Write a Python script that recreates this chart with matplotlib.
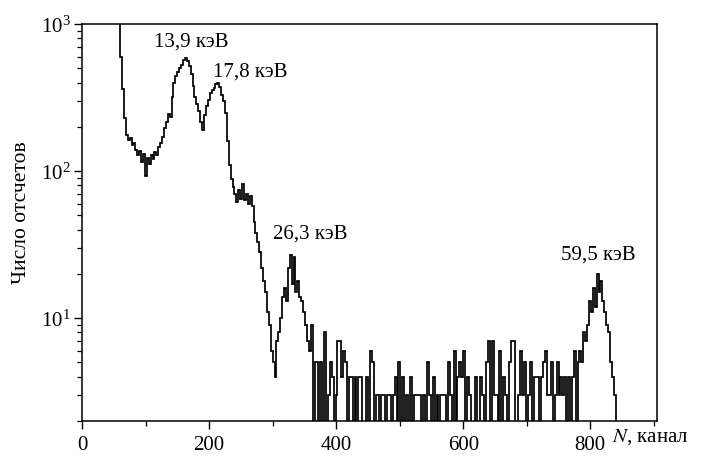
import numpy as np
import matplotlib
matplotlib.use('Agg')
import matplotlib.pyplot as plt
from matplotlib.ticker import LogLocator, NullFormatter, MultipleLocator

# spectrum, 3-channel bins starting at channel 54
ch_start = 54
ch_step = 3

# ch 54..234 : low-energy edge, 13.9 and 17.8 keV peaks
counts_low = [1500, 1150, 600, 360, 230, 175, 162, 168, 150, 156,
              140, 128, 138, 115, 130, 93, 122, 112, 128, 120,
              135, 128, 145, 155, 170, 195, 215, 245, 235, 320,
              400, 440, 470, 505, 525, 565, 590, 560, 520, 455,
              380, 320, 285, 255, 215, 190, 240, 275, 305, 340,
              355, 370, 390, 395, 375, 330, 300, 250, 160, 110]

# ch 234..354 : shoulder and 26.3 keV peak
counts_mid = [88, 78, 70, 62, 74, 65, 82, 64, 70, 60,
              68, 58, 45, 38, 33, 28, 22, 18, 15, 11,
              9, 6, 5, 4, 7, 8, 10, 14, 16, 13,
              22, 27, 17, 26, 15, 18, 14, 13, 11, 9]

# ch 354..774 : flat tail (1 = below the axis)
counts_tail = [7, 6, 9, 1, 5, 5, 1, 5, 1, 8,
               1, 3, 5, 4, 1, 3, 7, 7, 4, 6,
               5, 1, 4, 4, 1, 4, 1, 4, 4, 1,
               1, 4, 1, 6, 5, 1, 3, 3, 1, 3,
               3, 1, 3, 3, 1, 3, 4, 1, 5, 1,
               4, 1, 3, 1, 4, 1, 3, 3, 3, 3,
               1, 3, 1, 5, 3, 1, 4, 1, 3, 1,
               3, 3, 3, 1, 5, 3, 1, 6, 1, 4,
               5, 4, 6, 1, 4, 3, 1, 1, 4, 1,
               1, 4, 3, 1, 5, 7, 1, 7, 3, 3,
               1, 6, 1, 4, 3, 1, 5, 7, 7, 1,
               1, 3, 6, 3, 5, 1, 3, 5, 1, 4,
               4, 4, 1, 4, 5, 6, 3, 3, 5, 1,
               3, 5, 3, 4, 3, 4, 1, 4, 1, 4]

# ch 774..846 : 59.5 keV peak
counts_am = [6, 1, 5, 6, 5, 8, 7, 9, 13, 11,
             16, 12, 20, 15, 18, 13, 11, 9, 8, 5,
             4, 3, 1, 1]

peak_labels = ['13,9 кэВ', '17,8 кэВ', '26,3 кэВ', '59,5 кэВ']
peak_label_pos = [(172, 760), (265, 480), (360, 38), (813, 27.5)]

plt.rcParams['font.family'] = ['Liberation Serif', 'DejaVu Serif']
plt.rcParams['mathtext.fontset'] = 'stix'

counts = np.array(counts_low + counts_mid + counts_tail + counts_am, dtype=float)
edges = ch_start + ch_step * np.arange(len(counts) + 1)

fig = plt.figure(figsize=(7.01, 4.60), dpi=100)
ax = fig.add_axes([82/701, 1 - 422/460, 575/701, 397/460])

ax.stairs(counts, edges, baseline=None, color='black', lw=1.25)

ax.set_yscale('log')
ax.set_xlim(0, 905)
ax.set_ylim(2, 1000)
ax.xaxis.set_major_locator(MultipleLocator(200))
ax.xaxis.set_minor_locator(MultipleLocator(100))
ax.yaxis.set_major_locator(LogLocator(base=10, numticks=10))
ax.yaxis.set_minor_locator(LogLocator(base=10, subs=np.arange(2, 10), numticks=10))
ax.yaxis.set_minor_formatter(NullFormatter())

for s in ax.spines.values():
    s.set_linewidth(1.1)
ax.tick_params(which='major', direction='out', length=6, width=1.0, labelsize=15)
ax.tick_params(which='minor', direction='out', length=3.5, width=0.9)
ax.tick_params(axis='x', pad=4)
ax.tick_params(axis='y', pad=2)

ax.set_ylabel('Число отсчетов', fontsize=15.5)
ax.yaxis.set_label_coords(-0.088, 0.528)
ax.text(0.922, -0.038, r'$N$, канал', transform=ax.transAxes,
        ha='left', va='center', fontsize=15, clip_on=False)

for txt, (x, y) in zip(peak_labels, peak_label_pos):
    ax.text(x, y, txt, ha='center', va='center', fontsize=15)

fig.savefig('out.png', dpi=100)
